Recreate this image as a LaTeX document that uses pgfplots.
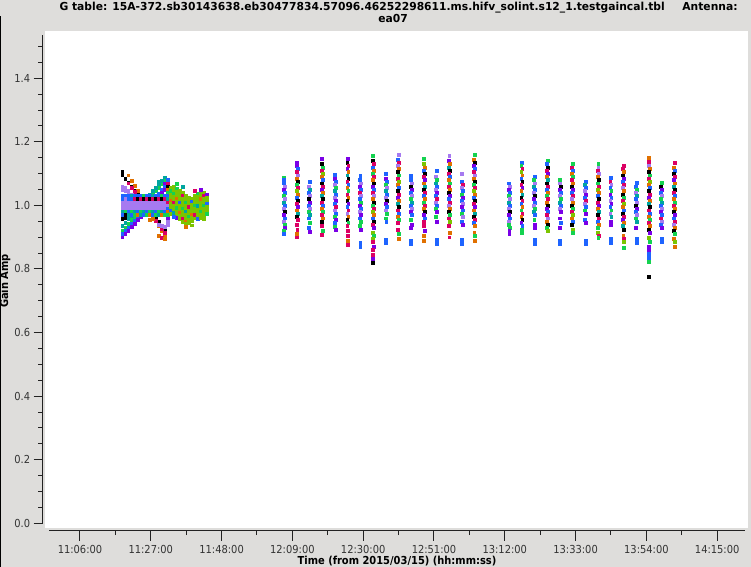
\documentclass[border=0pt]{standalone}
\usepackage{fontspec}
\setmainfont{DejaVu Sans}[FakeStretch=0.9]
\newfontfamily\titlefont{DejaVu Sans}[FakeStretch=0.975]
\usepackage{pgfplots}
\usepackage{pgfplotstable}
\pgfplotsset{compat=1.18}
\definecolor{bggray}{HTML}{DEDDDB}
\definecolor{axc}{HTML}{222222}
\definecolor{tickc}{HTML}{333333}
\definecolor{clrK}{HTML}{000000}
\definecolor{clrB}{HTML}{1E64FF}
\definecolor{clrM}{HTML}{DC0064}
\definecolor{clrO}{HTML}{E07000}
\definecolor{clrG}{HTML}{14D250}
\definecolor{clrV}{HTML}{7A00E6}
\definecolor{clrL}{HTML}{A67AF0}
\definecolor{clrY}{HTML}{7CC400}
\definecolor{clrT}{HTML}{00A5A0}
\newcommand\tfont{\fontsize{11bp}{13bp}\selectfont}

% ---- cluster, first segment: traces ----
\pgfplotstableread{
x y c
678.5 1.105 k
678.5 1.095 k
679.4 1.083 k
680.3 1.071 k
681.2 1.059 k
682.1 1.046 k
683.0 1.034 k
683.9 1.022 k
684.8 1.010 k
685.7 0.998 k
686.6 0.986 k
687.5 0.974 k
688.4 0.962 k
689.3 0.949 k
690.2 0.937 k
691.1 0.925 k
680.3 1.095 o
681.2 1.079 o
682.1 1.063 o
683.0 1.047 o
683.9 1.031 o
684.8 1.015 o
685.7 0.999 o
686.6 0.983 o
687.5 0.967 o
688.4 0.951 o
689.3 0.935 o
690.2 0.920 o
691.1 0.905 o
680.3 1.070 m
681.2 1.057 m
682.1 1.044 m
683.0 1.031 m
683.9 1.018 m
684.8 1.005 m
685.7 0.992 m
686.6 0.979 m
687.5 0.966 m
688.4 0.952 m
689.3 0.939 m
690.2 0.926 m
691.1 0.913 m
678.5 1.060 l
678.5 1.050 l
679.4 1.055 l
679.4 1.045 l
680.3 1.045 l
680.3 1.035 l
681.2 1.035 l
682.1 1.028 l
678.5 0.920 g
679.4 0.931 g
680.3 0.943 g
681.2 0.954 g
682.1 0.966 g
683.0 0.977 g
683.9 0.989 g
684.8 1.000 g
685.7 1.011 g
686.6 1.023 g
687.5 1.034 g
688.4 1.045 g
689.3 1.057 g
690.2 1.068 g
691.1 1.080 g
678.5 0.935 t
679.4 0.946 t
680.3 0.957 t
681.2 0.968 t
682.1 0.979 t
683.0 0.990 t
683.9 1.001 t
684.8 1.012 t
685.7 1.023 t
686.6 1.034 t
687.5 1.045 t
688.4 1.056 t
689.3 1.067 t
690.2 1.078 t
691.1 1.089 t
678.5 0.910 b
679.4 0.921 b
680.3 0.931 b
681.2 0.942 b
682.1 0.953 b
683.0 0.963 b
683.9 0.974 b
684.8 0.985 b
685.7 0.996 b
686.6 1.006 b
687.5 1.017 b
688.4 1.028 b
689.3 1.038 b
690.2 1.049 b
691.1 1.060 b
678.5 0.900 v
679.4 0.911 v
680.3 0.921 v
681.2 0.932 v
682.1 0.943 v
683.0 0.954 v
683.9 0.964 v
684.8 0.975 v
685.7 0.986 v
686.6 0.996 v
687.5 1.007 v
688.4 1.018 v
689.3 1.029 v
690.2 1.039 v
691.1 1.050 v
678.5 0.958 k
679.4 0.962 k
689.3 0.940 l
690.2 0.935 l
691.1 0.932 l
689.3 0.905 o
690.2 0.898 m
691.1 0.895 o
689.3 1.075 t
691.1 1.070 v
687.5 0.958 o
686.6 0.955 o
}\clusterA

% ---- cluster, first segment: central band ----
\pgfplotstableread{
x y c
678.5 1.030 b
678.5 1.020 b
678.5 1.010 l
678.5 1.000 l
678.5 0.990 l
678.5 0.980 t
678.5 0.970 b
679.4 1.030 b
679.4 1.020 l
679.4 1.010 l
679.4 1.000 l
679.4 0.990 l
679.4 0.980 g
679.4 0.970 k
680.3 1.030 b
680.3 1.020 b
680.3 1.010 l
680.3 1.000 l
680.3 0.990 l
680.3 0.980 b
680.3 0.970 t
681.2 1.030 t
681.2 1.020 b
681.2 1.010 l
681.2 1.000 l
681.2 0.990 l
681.2 0.980 g
681.2 0.970 b
682.1 1.030 b
682.1 1.020 m
682.1 1.010 l
682.1 1.000 l
682.1 0.990 l
682.1 0.980 t
682.1 0.970 g
683.0 1.030 b
683.0 1.020 k
683.0 1.010 l
683.0 1.000 l
683.0 0.990 l
683.0 0.980 b
683.0 0.970 o
683.9 1.030 b
683.9 1.020 m
683.9 1.010 l
683.9 1.000 l
683.9 0.990 l
683.9 0.980 g
683.9 0.970 t
684.8 1.030 g
684.8 1.020 k
684.8 1.010 l
684.8 1.000 l
684.8 0.990 l
684.8 0.980 t
684.8 0.970 b
685.7 1.030 b
685.7 1.020 m
685.7 1.010 l
685.7 1.000 l
685.7 0.990 l
685.7 0.980 b
685.7 0.970 g
686.6 1.030 b
686.6 1.020 k
686.6 1.010 l
686.6 1.000 l
686.6 0.990 l
686.6 0.980 g
686.6 0.970 o
687.5 1.030 t
687.5 1.020 m
687.5 1.010 l
687.5 1.000 l
687.5 0.990 l
687.5 0.980 t
687.5 0.970 b
688.4 1.030 b
688.4 1.020 k
688.4 1.010 l
688.4 1.000 l
688.4 0.990 l
688.4 0.980 b
688.4 0.970 g
689.3 1.030 b
689.3 1.020 m
689.3 1.010 l
689.3 1.000 l
689.3 0.990 l
689.3 0.980 g
689.3 0.970 t
690.2 1.030 g
690.2 1.020 k
690.2 1.010 l
690.2 1.000 l
690.2 0.990 l
690.2 0.980 t
690.2 0.970 o
691.1 1.030 b
691.1 1.020 m
691.1 1.010 l
691.1 1.000 l
691.1 0.990 l
691.1 0.980 b
691.1 0.970 g
}\clusterB

% ---- cluster, second segment ----
\pgfplotstableread{
x y c
692.0 1.080 b
692.0 1.070 m
692.0 1.060 k
692.0 1.050 o
692.0 1.040 g
692.0 1.030 b
692.0 1.020 t
692.0 1.010 m
692.0 1.000 l
692.0 0.990 b
692.0 0.980 o
692.0 0.970 g
692.0 0.960 v
692.0 0.950 l
692.0 0.940 l
692.9 1.055 y
692.9 1.045 g
692.9 1.035 y
692.9 1.025 y
692.9 1.015 o
692.9 1.005 y
692.9 0.995 y
692.9 0.985 b
692.9 0.975 y
693.8 1.058 y
693.8 1.048 y
693.8 1.038 g
693.8 1.028 y
693.8 1.018 y
693.8 1.008 m
693.8 0.998 y
693.8 0.988 y
693.8 0.978 t
694.7 1.052 g
694.7 1.042 y
694.7 1.032 y
694.7 1.022 o
694.7 1.012 y
694.7 1.002 y
694.7 0.992 g
694.7 0.982 y
694.7 0.972 y
694.7 0.962 v
695.6 1.048 y
695.6 1.038 y
695.6 1.028 y
695.6 1.018 y
695.6 1.008 b
695.6 0.998 y
695.6 0.988 y
695.6 0.978 o
695.6 0.968 y
695.6 0.958 y
696.5 1.040 y
696.5 1.030 m
696.5 1.020 y
696.5 1.010 y
696.5 1.000 y
696.5 0.990 g
696.5 0.980 y
696.5 0.970 y
696.5 0.960 m
696.5 0.950 y
697.4 1.030 y
697.4 1.020 y
697.4 1.010 g
697.4 1.000 y
697.4 0.990 y
697.4 0.980 t
697.4 0.970 y
697.4 0.960 y
697.4 0.950 o
697.4 0.943 y
698.3 1.025 y
698.3 1.015 y
698.3 1.005 y
698.3 0.995 m
698.3 0.985 y
698.3 0.975 y
698.3 0.965 g
698.3 0.955 y
698.3 0.945 y
699.2 1.022 y
699.2 1.012 b
699.2 1.002 y
699.2 0.992 y
699.2 0.982 y
699.2 0.972 o
699.2 0.962 y
699.2 0.952 y
700.1 1.030 y
700.1 1.020 y
700.1 1.010 y
700.1 1.000 g
700.1 0.990 y
700.1 0.980 y
700.1 0.970 m
700.1 0.960 y
701.0 1.038 g
701.0 1.028 y
701.0 1.018 y
701.0 1.008 y
701.0 0.998 t
701.0 0.988 y
701.0 0.978 y
701.0 0.968 y
701.0 0.958 b
701.9 1.040 y
701.9 1.030 y
701.9 1.020 o
701.9 1.010 y
701.9 1.000 y
701.9 0.990 y
701.9 0.980 g
701.9 0.970 y
701.9 0.960 y
702.8 1.040 y
702.8 1.030 m
702.8 1.020 y
702.8 1.010 y
702.8 1.000 g
702.8 0.990 y
702.8 0.980 y
702.8 0.970 y
703.7 1.035 v
703.7 1.025 y
703.7 1.015 y
703.7 1.005 b
703.7 0.995 y
703.7 0.985 y
703.7 0.975 g
694.7 1.068 g
696.5 1.058 t
700.1 1.045 m
701.9 1.050 v
697.4 0.932 o
699.2 0.938 y
702.8 0.957 y
693.8 0.965 b
}\clusterC

% ---- scans, first group ----
\pgfplotstableread{
x y c
726.5 1.089 g
726.4 1.080 b
726.35 1.07 b
726.65 1.06 l
726.35 1.05 v
726.65 1.04 b
726.35 1.03 g
726.65 1.02 l
726.35 1.01 t
726.65 1.00 b
726.35 0.99 l
726.65 0.98 k
726.35 0.97 v
726.65 0.96 b
726.35 0.95 l
726.65 0.94 g
726.6 0.930 v
726.4 0.921 g
726.5 0.912 b
730.3 1.136 v
730.15 1.125 v
730.45 1.115 b
730.15 1.105 m
730.45 1.095 l
730.15 1.085 o
730.45 1.075 k
730.15 1.065 g
730.45 1.055 m
730.15 1.045 y
730.45 1.035 o
730.15 1.025 b
730.45 1.015 k
730.15 1.005 m
730.45 0.995 v
730.15 0.985 o
730.45 0.975 t
730.15 0.965 k
730.45 0.955 m
730.2 0.940 m
730.4 0.925 m
730.3 0.910 o
730.2 0.900 m
734.0 1.075 b
733.85 1.06 l
734.15 1.05 t
733.85 1.04 b
734.15 1.03 l
733.85 1.02 k
734.15 1.01 v
733.85 1.00 b
734.15 0.99 l
733.85 0.98 g
734.15 0.97 t
733.85 0.96 b
734.1 0.945 g
733.9 0.930 b
734.0 0.918 v
737.8 1.146 v
737.65 1.13 k
737.95 1.12 g
737.65 1.11 m
737.95 1.10 y
737.65 1.09 o
737.95 1.08 b
737.65 1.07 k
737.95 1.06 m
737.65 1.05 v
737.95 1.04 o
737.65 1.03 t
737.95 1.02 k
737.65 1.01 m
737.95 1.00 b
737.65 0.99 o
737.95 0.98 g
737.65 0.97 m
737.95 0.96 o
737.65 0.95 k
737.7 0.935 m
737.9 0.920 g
737.8 0.907 m
741.6 1.096 b
741.45 1.085 v
741.75 1.075 b
741.45 1.065 l
741.75 1.055 g
741.45 1.045 t
741.75 1.035 b
741.45 1.025 l
741.75 1.015 v
741.45 1.005 b
741.75 0.995 m
741.45 0.985 l
741.75 0.975 b
741.45 0.965 g
741.75 0.955 v
741.45 0.945 b
741.5 0.932 g
741.7 0.923 v
745.4 1.146 v
745.25 1.135 k
745.55 1.125 m
745.25 1.115 v
745.55 1.105 o
745.25 1.095 t
745.55 1.085 k
745.25 1.075 m
745.55 1.065 b
745.25 1.055 o
745.55 1.045 g
745.25 1.035 m
745.55 1.025 o
745.25 1.015 k
745.55 1.005 v
745.25 0.995 b
745.55 0.985 m
745.25 0.975 l
745.55 0.965 o
745.25 0.955 k
745.55 0.945 g
745.25 0.935 m
745.3 0.920 m
745.5 0.905 m
745.4 0.890 o
745.4 0.876 m
749.1 1.093 b
748.95 1.08 b
749.25 1.07 l
748.95 1.06 v
749.25 1.05 b
748.95 1.04 m
749.25 1.03 l
748.95 1.02 b
749.25 1.01 g
748.95 1.00 v
749.25 0.99 b
748.95 0.98 l
749.25 0.97 v
748.95 0.96 b
749.25 0.95 g
749.0 0.935 g
749.2 0.923 v
749.1 0.883 b
749.1 0.869 b
752.9 1.156 g
752.75 1.14 k
753.05 1.13 m
752.75 1.12 b
753.05 1.11 o
752.75 1.10 g
753.05 1.09 m
752.75 1.08 o
753.05 1.07 k
752.75 1.06 v
753.05 1.05 b
752.75 1.04 m
753.05 1.03 l
752.75 1.02 o
753.05 1.01 k
752.75 1.00 g
753.05 0.99 m
752.75 0.98 y
753.05 0.97 o
752.75 0.96 b
753.05 0.95 k
752.75 0.94 m
753.05 0.93 v
752.8 0.915 y
753.0 0.905 g
752.9 0.895 y
752.8 0.885 m
753.0 0.870 v
752.9 0.860 m
752.8 0.845 m
752.9 0.832 v
752.9 0.820 k
756.7 1.100 b
756.55 1.085 v
756.85 1.075 b
756.55 1.065 g
756.85 1.055 l
756.55 1.045 t
756.85 1.035 b
756.55 1.025 l
756.85 1.015 k
756.55 1.005 v
756.85 0.995 b
756.55 0.985 l
756.85 0.975 g
756.6 0.960 g
756.8 0.950 b
756.7 0.893 b
756.7 0.883 b
760.4 1.159 l
760.25 1.145 b
760.55 1.135 m
760.25 1.125 l
760.55 1.115 o
760.25 1.105 k
760.55 1.095 g
760.25 1.085 m
760.55 1.075 y
760.25 1.065 o
760.55 1.055 b
760.25 1.045 k
760.55 1.035 m
760.25 1.025 v
760.55 1.015 o
760.25 1.005 t
760.55 0.995 k
760.25 0.985 m
760.55 0.975 b
760.25 0.965 o
760.55 0.955 g
760.25 0.945 m
760.3 0.925 m
760.5 0.910 g
760.4 0.895 o
764.2 1.093 b
764.05 1.08 b
764.35 1.07 l
764.05 1.06 k
764.35 1.05 v
764.05 1.04 b
764.35 1.03 l
764.05 1.02 g
764.35 1.01 t
764.05 1.00 b
764.35 0.99 l
764.05 0.98 v
764.35 0.97 b
764.1 0.955 g
764.3 0.940 v
764.2 0.930 v
764.2 0.890 b
764.2 0.880 b
768.0 1.146 g
767.85 1.13 y
768.15 1.12 o
767.85 1.11 b
768.15 1.10 k
767.85 1.09 m
768.15 1.08 v
767.85 1.07 o
768.15 1.06 t
767.85 1.05 k
768.15 1.04 m
767.85 1.03 b
768.15 1.02 o
767.85 1.01 g
768.15 1.00 m
767.85 0.99 o
768.15 0.98 k
767.85 0.97 v
768.15 0.96 b
767.85 0.95 m
767.9 0.935 m
768.1 0.920 v
768.0 0.905 o
768.0 0.888 o
771.7 1.108 b
771.55 1.09 l
771.85 1.08 g
771.55 1.07 t
771.85 1.06 b
771.55 1.05 l
771.85 1.04 v
771.55 1.03 b
771.85 1.02 m
771.55 1.01 l
771.85 1.00 b
771.55 0.99 g
771.85 0.98 v
771.6 0.965 g
771.8 0.950 v
771.7 0.893 b
771.7 0.880 b
775.5 1.156 l
775.35 1.14 v
775.65 1.13 o
775.35 1.12 t
775.65 1.11 k
775.35 1.10 m
775.65 1.09 b
775.35 1.08 o
775.65 1.07 g
775.35 1.06 m
775.65 1.05 o
775.35 1.04 k
775.65 1.03 v
775.35 1.02 b
775.65 1.01 m
775.35 1.00 l
775.65 0.99 o
775.35 0.98 k
775.65 0.97 g
775.35 0.96 m
775.65 0.95 y
775.4 0.935 m
775.6 0.915 o
775.5 0.900 m
779.3 1.100 l
779.15 1.075 b
779.45 1.065 m
779.15 1.055 l
779.45 1.045 b
779.15 1.035 g
779.45 1.025 v
779.15 1.015 b
779.45 1.005 l
779.15 0.995 v
779.45 0.985 b
779.15 0.975 g
779.45 0.965 l
779.2 0.950 b
779.4 0.940 v
779.3 0.892 b
779.3 0.880 b
783.0 1.159 g
782.85 1.145 o
783.15 1.135 k
782.85 1.125 v
783.15 1.115 b
782.85 1.105 m
783.15 1.095 l
782.85 1.085 o
783.15 1.075 k
782.85 1.065 g
783.15 1.055 m
782.85 1.045 y
783.15 1.035 o
782.85 1.025 b
783.15 1.015 k
782.85 1.005 m
783.15 0.995 v
782.85 0.985 o
783.15 0.975 t
782.85 0.965 k
783.15 0.955 m
782.85 0.945 b
783.15 0.935 o
782.9 0.915 o
783.1 0.905 g
783.0 0.890 o
}\scansA

% ---- scans, second group ----
\pgfplotstableread{
x y c
793.15 1.07 b
793.45 1.06 l
793.15 1.05 v
793.45 1.04 b
793.15 1.03 g
793.45 1.02 l
793.15 1.01 t
793.45 1.00 b
793.15 0.99 l
793.45 0.98 k
793.15 0.97 v
793.45 0.96 b
793.15 0.95 l
793.2 0.940 g
793.4 0.930 g
793.3 0.920 v
793.3 0.912 v
797.0 1.134 b
796.85 1.125 g
797.15 1.115 m
796.85 1.105 y
797.15 1.095 o
796.85 1.085 b
797.15 1.075 k
796.85 1.065 m
797.15 1.055 v
796.85 1.045 o
797.15 1.035 t
796.85 1.025 k
797.15 1.015 m
796.85 1.005 b
797.15 0.995 o
796.85 0.985 g
797.15 0.975 m
796.85 0.965 o
797.15 0.955 k
796.85 0.945 v
797.15 0.935 b
796.9 0.925 g
797.1 0.913 g
800.8 1.090 b
800.65 1.08 g
800.95 1.07 l
800.65 1.06 t
800.95 1.05 b
800.65 1.04 l
800.95 1.03 k
800.65 1.02 v
800.95 1.01 b
800.65 1.00 l
800.95 0.99 g
800.65 0.98 t
800.95 0.97 b
800.7 0.955 g
800.9 0.940 v
800.8 0.930 v
800.8 0.893 b
800.8 0.880 b
804.6 1.140 g
804.45 1.13 b
804.75 1.12 k
804.45 1.11 m
804.75 1.10 v
804.45 1.09 o
804.75 1.08 t
804.45 1.07 k
804.75 1.06 m
804.45 1.05 b
804.75 1.04 o
804.45 1.03 g
804.75 1.02 m
804.45 1.01 o
804.75 1.00 k
804.45 0.99 v
804.75 0.98 b
804.45 0.97 m
804.75 0.96 l
804.45 0.95 o
804.75 0.94 k
804.5 0.930 g
804.7 0.920 y
808.4 1.080 g
808.25 1.07 l
808.55 1.06 k
808.25 1.05 v
808.55 1.04 b
808.25 1.03 l
808.55 1.02 g
808.25 1.01 t
808.55 1.00 b
808.25 0.99 l
808.55 0.98 v
808.3 0.960 v
808.5 0.945 b
808.4 0.930 v
808.4 0.890 b
808.4 0.878 b
812.1 1.131 g
811.95 1.12 m
812.25 1.11 b
811.95 1.10 o
812.25 1.09 g
811.95 1.08 m
812.25 1.07 o
811.95 1.06 k
812.25 1.05 v
811.95 1.04 b
812.25 1.03 m
811.95 1.02 l
812.25 1.01 o
811.95 1.00 k
812.25 0.99 g
811.95 0.98 m
812.25 0.97 y
811.95 0.96 o
812.25 0.95 b
811.95 0.94 k
812.0 0.925 y
812.2 0.913 g
815.9 1.074 b
815.75 1.065 t
816.05 1.055 b
815.75 1.045 l
816.05 1.035 v
815.75 1.025 b
816.05 1.015 m
815.75 1.005 l
816.05 0.995 b
815.75 0.985 g
816.05 0.975 v
815.8 0.955 b
816.0 0.945 v
815.9 0.890 b
815.9 0.878 b
819.7 1.131 g
819.7 1.120 l
819.55 1.11 m
819.85 1.10 l
819.55 1.09 o
819.85 1.08 k
819.55 1.07 g
819.85 1.06 m
819.55 1.05 y
819.85 1.04 o
819.55 1.03 b
819.85 1.02 k
819.55 1.01 m
819.85 1.00 v
819.55 0.99 o
819.85 0.98 t
819.55 0.97 k
819.85 0.96 m
819.55 0.95 b
819.85 0.94 o
819.55 0.93 g
819.6 0.913 y
819.8 0.905 m
819.7 0.898 g
823.4 1.087 b
823.25 1.075 m
823.55 1.065 l
823.25 1.055 b
823.55 1.045 g
823.25 1.035 v
823.55 1.025 b
823.25 1.015 l
823.55 1.005 v
823.25 0.995 b
823.55 0.985 g
823.25 0.975 l
823.55 0.965 t
823.3 0.950 v
823.5 0.940 v
823.4 0.895 b
823.4 0.882 b
827.2 1.125 m
827.05 1.115 m
827.35 1.105 o
827.05 1.095 k
827.35 1.085 v
827.05 1.075 b
827.35 1.065 m
827.05 1.055 l
827.35 1.045 o
827.05 1.035 k
827.35 1.025 g
827.05 1.015 m
827.35 1.005 y
827.05 0.995 o
827.35 0.985 b
827.05 0.975 k
827.35 0.965 m
827.05 0.955 v
827.35 0.945 o
827.05 0.935 t
827.35 0.925 k
827.1 0.905 o
827.3 0.895 m
827.2 0.885 y
827.2 0.866 g
831.0 1.071 b
830.85 1.06 b
831.15 1.05 g
830.85 1.04 l
831.15 1.03 t
830.85 1.02 b
831.15 1.01 l
830.85 1.00 k
831.15 0.99 v
830.85 0.98 b
831.15 0.97 l
830.85 0.96 g
831.15 0.95 t
830.9 0.930 v
831.0 0.895 b
831.0 0.883 b
834.8 1.149 o
834.8 1.138 m
834.65 1.125 l
834.95 1.115 o
834.65 1.105 k
834.95 1.095 g
834.65 1.085 m
834.95 1.075 y
834.65 1.065 o
834.95 1.055 b
834.65 1.045 k
834.95 1.035 m
834.65 1.025 v
834.95 1.015 o
834.65 1.005 t
834.95 0.995 k
834.65 0.985 m
834.95 0.975 b
834.65 0.965 o
834.95 0.955 g
834.65 0.945 m
834.95 0.935 o
834.65 0.925 k
834.95 0.915 v
834.7 0.898 y
834.9 0.885 g
834.8 0.870 v
834.8 0.860 v
834.8 0.848 b
834.8 0.835 b
834.8 0.823 g
834.8 0.775 k
838.5 1.071 g
838.35 1.06 k
838.65 1.05 v
838.35 1.04 b
838.65 1.03 l
838.35 1.02 g
838.65 1.01 t
838.35 1.00 b
838.65 0.99 l
838.35 0.98 v
838.65 0.97 b
838.35 0.96 m
838.65 0.95 l
838.35 0.94 b
838.4 0.930 v
838.5 0.895 b
838.5 0.885 b
842.3 1.134 m
842.15 1.12 o
842.45 1.11 b
842.15 1.10 k
842.45 1.09 m
842.15 1.08 v
842.45 1.07 o
842.15 1.06 t
842.45 1.05 k
842.15 1.04 m
842.45 1.03 b
842.15 1.02 o
842.45 1.01 g
842.15 1.00 m
842.45 0.99 o
842.15 0.98 k
842.45 0.97 v
842.15 0.96 b
842.45 0.95 m
842.15 0.94 l
842.45 0.93 o
842.15 0.92 k
842.45 0.91 g
842.2 0.895 o
842.4 0.885 y
842.3 0.870 o
}\scansB

\pgfplotsset{
  pts/.style={only marks, scatter, scatter src=explicit symbolic,
    mark=square*, mark size=1.45bp, line width=0.3bp,
    scatter/classes={
      k={mark=square*,draw=clrK,fill=clrK}, b={mark=square*,draw=clrB,fill=clrB},
      m={mark=square*,draw=clrM,fill=clrM}, o={mark=square*,draw=clrO,fill=clrO},
      g={mark=square*,draw=clrG,fill=clrG}, v={mark=square*,draw=clrV,fill=clrV},
      l={mark=square*,draw=clrL,fill=clrL}, y={mark=square*,draw=clrY,fill=clrY},
      t={mark=square*,draw=clrT,fill=clrT}}}
}

\begin{document}
\begin{tikzpicture}
\fill[bggray] (-42.7bp,-36.3bp) rectangle (708.3bp,530.7bp);
\fill[black] (-42.7bp,-36.3bp) rectangle (-41.7bp,514.7bp);
\begin{axis}[
  at={(0,0)}, anchor=south west,
  scale only axis, width=705.3bp, height=499.7bp,
  xmin=654.94, xmax=864.14, ymin=-0.0233, ymax=1.5486,
  axis x line*=bottom, axis y line*=left,
  axis line style={draw=none},
  xtick={666,687,708,729,750,771,792,813,834,855},
  xticklabels={11:06:00,11:27:00,11:48:00,12:09:00,12:30:00,12:51:00,13:12:00,13:33:00,13:54:00,14:15:00},
  ytick={0,0.2,0.4,0.6,0.8,1.0,1.2,1.4},
  yticklabels={0.0,0.2,0.4,0.6,0.8,1.0,1.2,1.4},
  minor x tick num=1, minor y tick num=3,
  xtick align=outside, ytick align=outside,
  major tick length=9bp, minor tick length=4.5bp,
  every tick/.style={draw=axc, line width=1bp},
  tick label style={font=\tfont, text=tickc},
  xticklabel style={yshift=-2.5bp},
  clip=false,
]
\fill[white] (axis cs:655.62,-0.0138) rectangle (axis cs:864.14,1.5486);
\draw[axc, line width=1.3bp] (axis cs:654.94,0) -- (axis cs:654.94,1.536);
\draw[axc, line width=1.3bp] (axis cs:656.9,-0.0233) -- (axis cs:863.2,-0.0233);
\pgfplotsinvokeforeach{666,687,708,729,750,771,792,813,834,855}{
  \draw[axc, line width=1bp] (axis cs:#1,-0.0233) -- ([yshift=-10bp]axis cs:#1,-0.0233);}
\pgfplotsinvokeforeach{676.5,697.5,718.5,739.5,760.5,781.5,802.5,823.5,844.5}{
  \draw[axc, line width=1bp] (axis cs:#1,-0.0233) -- ([yshift=-4.5bp]axis cs:#1,-0.0233);}
\pgfplotsinvokeforeach{0,0.2,0.4,0.6,0.8,1.0,1.2,1.4}{
  \draw[axc, line width=1bp] (axis cs:654.94,#1) -- ([xshift=-8.7bp]axis cs:654.94,#1);}
\pgfplotsinvokeforeach{0.05,0.1,0.15,0.25,0.3,0.35,0.45,0.5,0.55,0.65,0.7,0.75,0.85,0.9,0.95,1.05,1.1,1.15,1.25,1.3,1.35,1.45,1.5}{
  \draw[axc, line width=1bp] (axis cs:654.94,#1) -- ([xshift=-4.7bp]axis cs:654.94,#1);}
\addplot[pts] table[x=x,y=y,meta=c] {\clusterA};
\addplot[pts] table[x=x,y=y,meta=c] {\clusterB};
\addplot[pts] table[x=x,y=y,meta=c] {\clusterC};
\addplot[pts] table[x=x,y=y,meta=c] {\scansA};
\addplot[pts] table[x=x,y=y,meta=c] {\scansB};
\end{axis}
\node[font=\titlefont\tfont\bfseries, anchor=center] at (355.8bp,522.7bp)
  {G table: 15A-372.sb30143638.eb30477834.57096.46252298611.ms.hifv\_solint.s12\_1.testgaincal.tbl\hspace{1.6em}Antenna:};
\node[font=\titlefont\tfont\bfseries, anchor=center] at (350.3bp,511.7bp) {ea07};
\node[font=\tfont\bfseries, rotate=90, anchor=center] at (-37.7bp,249.7bp) {Gain Amp};
\node[font=\tfont\bfseries, anchor=center] at (354.3bp,-30.3bp) {Time (from 2015/03/15) (hh:mm:ss)};
\pgfresetboundingbox
\path[use as bounding box] (-42.7bp,-36.3bp) rectangle (708.3bp,530.7bp);
\end{tikzpicture}
\end{document}
